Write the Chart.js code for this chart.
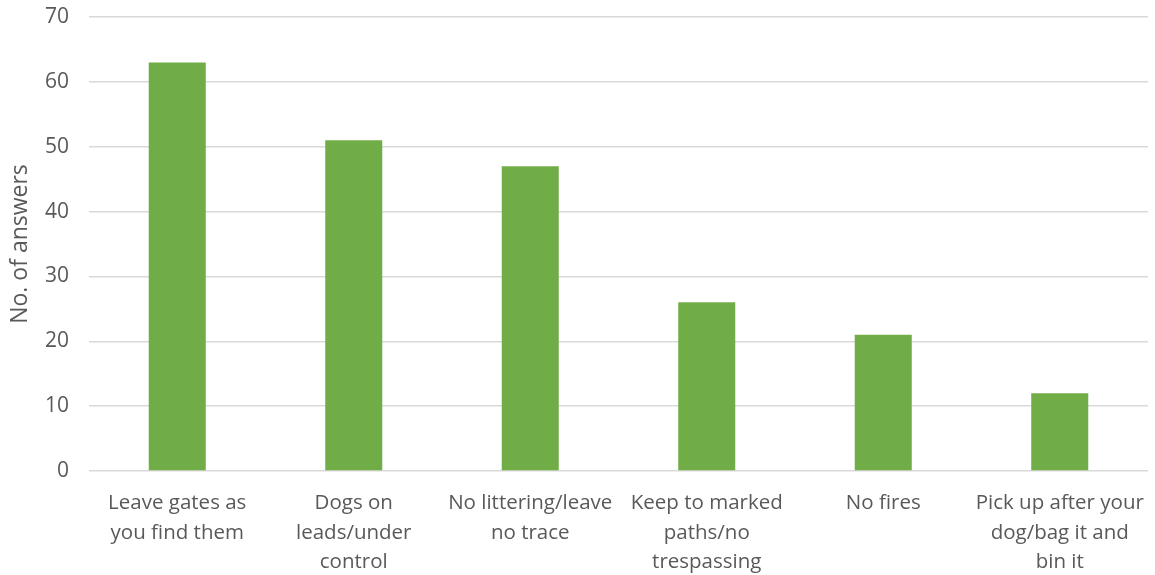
<!DOCTYPE html>
<html>
<head>
<meta charset="utf-8">
<script src="https://cdn.jsdelivr.net/npm/chart.js@4"></script>
<style>
  html, body { margin: 0; padding: 0; background: #fff; }
  #wrap { width: 1155px; height: 575px; position: relative; }
</style>
</head>
<body>
<div id="wrap"><canvas id="c"></canvas></div>
<script>
// Countryside code items and how many answers mentioned each
const categories = [
  ['Leave gates as', 'you find them'],
  ['Dogs on', 'leads/under', 'control'],
  ['No littering/leave', 'no trace'],
  ['Keep to marked', 'paths/no', 'trespassing'],
  ['No fires'],
  ['Pick up after your', 'dog/bag it and', 'bin it']
];
const answers = [63, 51, 47, 26, 21, 12];
const yTicks = [0, 10, 20, 30, 40, 50, 60, 70];

const textColor = '#595959';
const gridColor = '#d9d9d9';
const family = '"Open Sans", "Noto Sans", sans-serif';

new Chart(document.getElementById('c'), {
  type: 'bar',
  data: {
    labels: categories,
    datasets: [{
      label: 'No. of answers',
      data: answers,
      backgroundColor: '#70ad47',
      borderWidth: 0,
      categoryPercentage: 1,
      barPercentage: 0.323
    }]
  },
  options: {
    responsive: true,
    maintainAspectRatio: false,
    animation: false,
    layout: { padding: { top: 17, right: 7, bottom: 0, left: 0 } },
    plugins: {
      legend: { display: false },
      tooltip: { enabled: false }
    },
    scales: {
      x: {
        grid: { display: false, drawTicks: false },
        border: { display: false },
        ticks: {
          color: textColor,
          font: { family, size: 20.5, lineHeight: 1.42 },
          padding: 18,
          maxRotation: 0,
          minRotation: 0,
          autoSkip: false
        },
        afterFit(scale) {
          scale.height = 104;
          scale.paddingLeft = 0;
          scale.paddingRight = 0;
        }
      },
      y: {
        min: 0,
        max: 70,
        afterBuildTicks(scale) { scale.ticks = yTicks.map(v => ({ value: v })); },
        grid: { color: gridColor, lineWidth: 1.5, drawTicks: false },
        border: { display: false },
        ticks: {
          color: textColor,
          font: { family, size: 21 },
          padding: 20
        },
        title: {
          display: true,
          text: 'No. of answers',
          color: textColor,
          font: { family, size: 23 },
          padding: { top: 7, bottom: 0 }
        },
        afterFit(scale) {
          scale.width = 89;
          scale.paddingTop = 0;
          scale.paddingBottom = 0;
        }
      }
    }
  }
});
</script>
</body>
</html>
